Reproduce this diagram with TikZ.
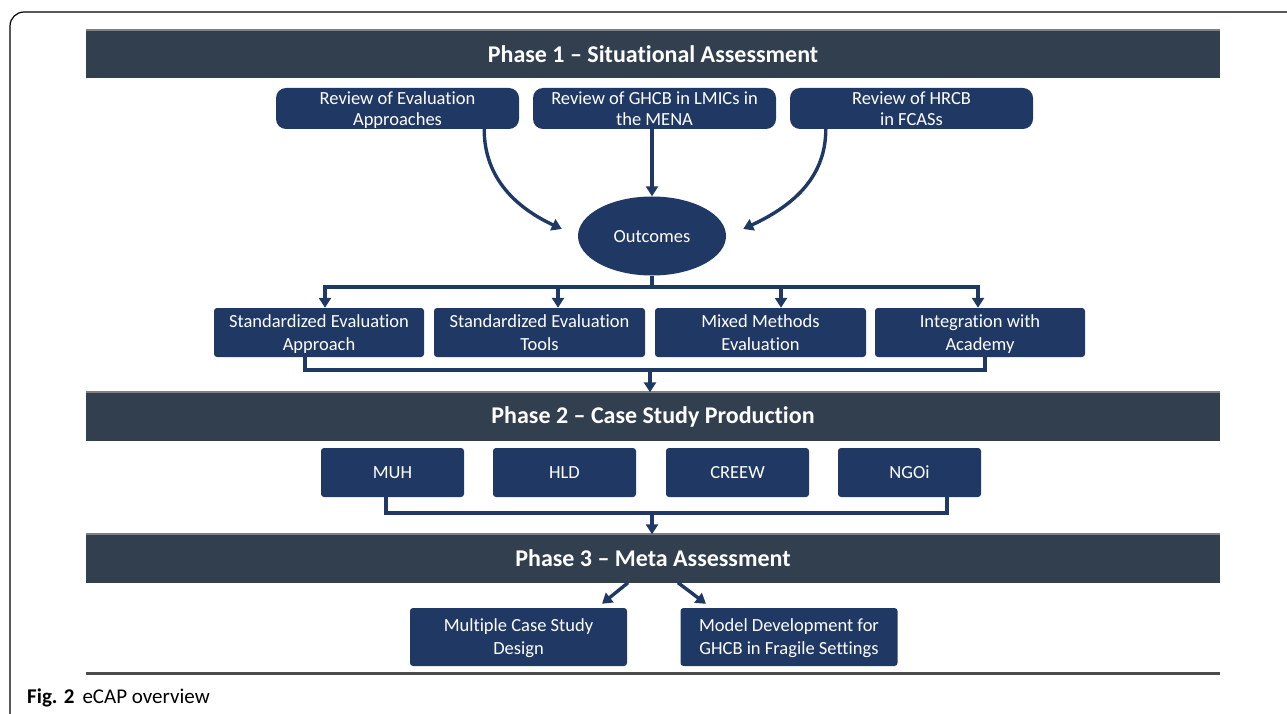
\documentclass[tikz,border=0pt]{standalone}
\usepackage{fontspec}
\setmainfont{Carlito}[Ligatures=NoCommon]
\usetikzlibrary{shapes.geometric, arrows.meta, calc}
\definecolor{navy}{HTML}{1F3864}
\definecolor{slate}{HTML}{323F4F}

\begin{document}
\begin{tikzpicture}[x=1pt, y=1pt,
    phase/.style={fill=slate, minimum width=1134pt, minimum height=48pt, text=white, font=\fontsize{24}{28}\selectfont\bfseries},
    review/.style={fill=navy, rounded corners=10pt, minimum width=243pt, minimum height=41pt, inner sep=0pt, text depth=0pt, text=white, align=center, font=\fontsize{18.5}{21}\selectfont},
    part/.style={fill=navy, rounded corners=3pt, minimum height=49pt, inner sep=0pt, text depth=0pt, text=white, align=center, font=\fontsize{18.5}{23}\selectfont},
    link/.style={draw=navy, line width=3.4pt},
    arr/.style={link, -{Triangle[width=12pt,length=10pt]}}]
    \useasboundingbox (0,0) rectangle (1287,-714);
    % page frame
    \draw[line width=1.2pt, rounded corners=14pt] (10,-760) -- (10,-12) -- (1320,-12);

    % phase 1
    \node[phase] (p1) at (653,-54) {Phase 1 -- Situational Assessment};
    \draw[gray, line width=2pt] (p1.north west) -- (p1.north east);
    \node[review] (rev1) at (397.5,-108.5) {Review of Evaluation\\Approaches};
    \node[review] (rev2) at (654.5,-108.5) {Review of GHCB in LMICs in\\the MENA};
    \node[review] (rev3) at (911.5,-108.5) {Review of HRCB\\in FCASs};
    \node[ellipse, fill=navy, minimum width=148pt, minimum height=79pt, text depth=0pt, text=white, font=\fontsize{18.5}{21}\selectfont] (out) at (652,-236) {Outcomes};
    \draw[arr] ([xshift=-35pt]rev1.south east) to[out=-90, in=155] ([xshift=-16pt, yshift=7pt]out.west);
    \draw[arr] (rev2.south -| out.north) -- (out.north);
    \draw[arr] ([xshift=36pt]rev3.south west) to[out=-90, in=25] ([xshift=17pt, yshift=7pt]out.east);

    \node[part, minimum width=210pt] (sea) at (319,-332.5) {Standardized Evaluation\\Approach};
    \node[part, minimum width=211pt] (set) at (539.5,-332.5) {Standardized Evaluation\\Tools};
    \node[part, minimum width=211pt] (mme) at (760.5,-332.5) {Mixed Methods\\Evaluation};
    \node[part, minimum width=210pt] (iwa) at (980,-332.5) {Integration with\\Academy};
    \coordinate (split) at (652,-287);
    \draw[link] (out.south) -- (split);
    \draw[arr] (split) -| ([xshift=6pt]sea.north);
    \draw[arr] (split) -| ([xshift=18.5pt]set.north);
    \draw[arr] (split) -| ([xshift=20.5pt]mme.north);
    \draw[arr] (split) -| ([xshift=-2pt]iwa.north);

    % phase 2
    \node[phase] (p2) at (653,-416.5) {Phase 2 -- Case Study Production};
    \draw[gray, line width=2pt] (p2.north west) -- (p2.north east);
    \coordinate (merge1) at (650,-370);
    \draw[link] ([xshift=-14pt]sea.south) |- (merge1) -| ([xshift=5pt]iwa.south);
    \draw[arr] (merge1) -- (merge1 |- p2.north);

    \node[part, minimum width=143pt] (muh) at (392.5,-472.5) {MUH};
    \node[part, minimum width=143pt] (hld) at (564.5,-472.5) {HLD};
    \node[part, minimum width=143pt] (creew) at (737.5,-472.5) {CREEW};
    \node[part, minimum width=143pt] (ngoi) at (909.5,-472.5) {NGOi};

    % phase 3
    \node[phase] (p3) at (653,-558.5) {Phase 3 -- Meta Assessment};
    \draw[gray, line width=2pt] (p3.north west) -- (p3.north east);
    \coordinate (merge2) at (652,-513);
    \draw[link] ([xshift=-6.5pt]muh.south) |- (merge2) -| ([xshift=37.5pt]ngoi.south);
    \draw[arr] (merge2) -- (merge2 |- p3.north);

    \node[part, minimum width=217pt, minimum height=58pt] (mcs) at (518.5,-637) {Multiple Case Study\\Design};
    \node[part, minimum width=217pt, minimum height=58pt] (mdg) at (789,-637) {Model Development for\\GHCB in Fragile Settings};
    \draw[arr] ([xshift=-25pt]p3.south) -- ([xshift=83.5pt, yshift=4pt]mcs.north);
    \draw[arr] ([xshift=25pt]p3.south) -- ([xshift=-83pt, yshift=4pt]mdg.north);

    % caption
    \draw[line width=3pt, black!70] (p3.west |- 0,-673) -- (p3.east |- 0,-673);
    \node[anchor=base west, inner sep=0pt, font=\fontsize{21}{24}\selectfont] (cap) at (27,-703) {\textbf{Fig. 2}\hspace{8pt}eCAP overview};
\end{tikzpicture}
\end{document}
